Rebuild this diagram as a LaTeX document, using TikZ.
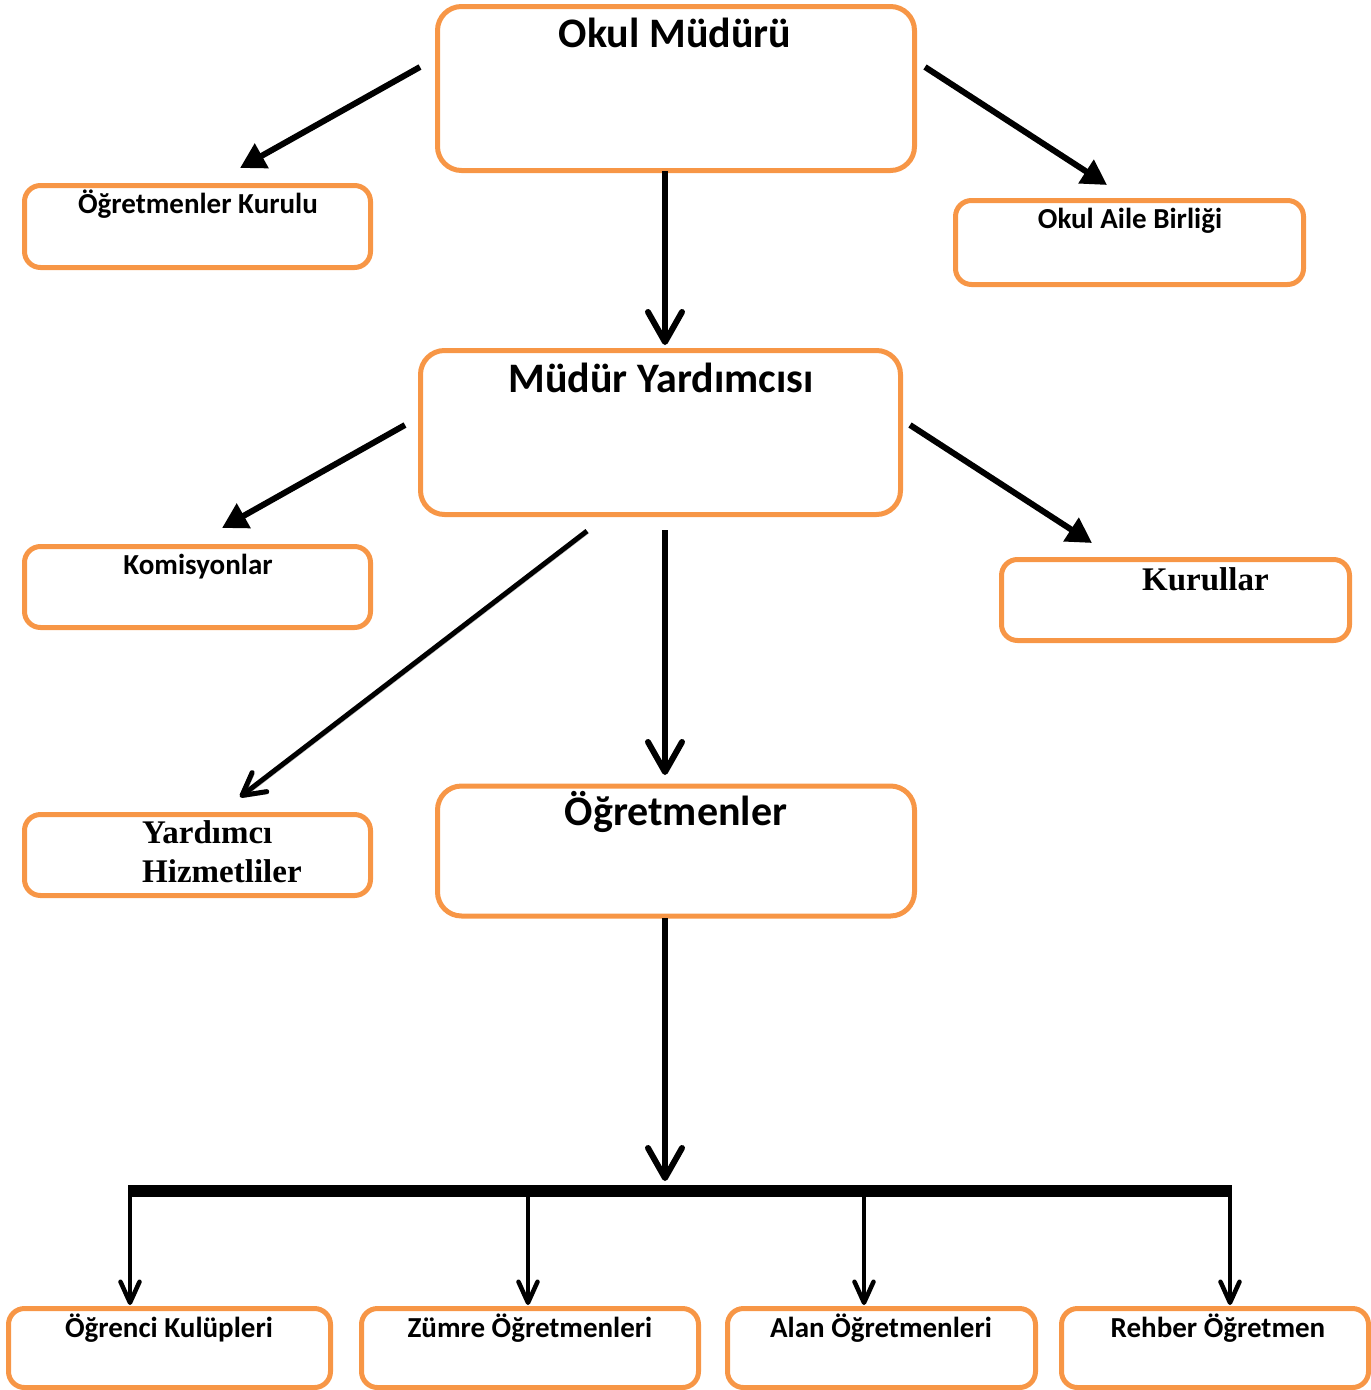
\documentclass[tikz,border=0pt]{standalone}
\usepackage{fontspec}
\setmainfont{Carlito}
\newfontfamily\cambriaish{Liberation Serif}
\usetikzlibrary{arrows.meta}
\definecolor{boxorange}{HTML}{F79646}
\tikzset{
  box/.style={draw=boxorange, line width=5pt, rounded corners=#1, inner sep=0pt, outer sep=0pt, anchor=north west},
  box/.default=16pt,
  bigtxt/.style={font=\fontsize{42}{50}\selectfont\bfseries, anchor=base, inner sep=0pt},
  smalltxt/.style={font=\fontsize{29}{35}\selectfont\bfseries, anchor=base, inner sep=0pt},
  seriftxt/.style={font=\cambriaish\fontsize{33}{40}\selectfont\bfseries, anchor=base west, inner sep=0pt, align=left},
  tri/.style={line width=6pt, -{Triangle[length=25pt,width=27pt]}},
  veebig/.style={line width=6pt, -{Straight Barb[length=30pt,width=34pt,round]},
    preaction={draw=gray!60, transform canvas={shift={(1.5pt,-1.5pt)}}}},
  veethin/.style={line width=5pt, -{Straight Barb[length=22pt,width=24pt,round]},
    preaction={draw=gray!60, transform canvas={shift={(2pt,-2pt)}}}},
  veesmall/.style={line width=4.5pt, -{Straight Barb[length=21pt,width=19pt,round]},
    preaction={draw=gray!60, transform canvas={shift={(1pt,-1pt)}}}},
}
\begin{document}
\begin{tikzpicture}[x=1pt,y=-1pt]
\useasboundingbox (0,0) rectangle (1371,1390);
% boxes
\node[box=24pt, minimum width=477pt, minimum height=164pt] (om) at (437.5,6.5) {};
\node[box, minimum width=346pt, minimum height=82pt] (okur) at (24.5,185.5) {};
\node[box, minimum width=348pt, minimum height=84pt] (oab) at (955.5,200.5) {};
\node[box=24pt, minimum width=480pt, minimum height=164pt] (my) at (420.5,350.5) {};
\node[box, minimum width=346pt, minimum height=81pt] (kom) at (24.5,546.5) {};
\node[box, minimum width=348pt, minimum height=81pt] (kur) at (1001.5,559.5) {};
\node[box, minimum width=346pt, minimum height=81pt] (yh) at (24.5,814.5) {};
\node[box=24pt, minimum width=477pt, minimum height=130pt] (ogr) at (437.5,786) {};
\node[box, minimum width=322pt, minimum height=79pt] (ok1) at (8.5,1308.5) {};
\node[box, minimum width=337pt, minimum height=79pt] (zum) at (361.5,1308.5) {};
\node[box, minimum width=308pt, minimum height=79pt] (alan) at (727.5,1308.5) {};
\node[box, minimum width=307pt, minimum height=79pt] (reh) at (1061.5,1308.5) {};
% texts
\node[bigtxt] (tom) at (675,47) {Okul Müdürü};
\node[smalltxt] (tokur) at (198,213) {Öğretmenler Kurulu};
\node[smalltxt] (toab) at (1130,228) {Okul Aile Birliği};
\node[bigtxt] (tmy) at (661,392) {Müdür Yardımcısı};
\node[smalltxt] (tkom) at (198,574) {Komisyonlar};
\node[seriftxt] (tkur) at (1142,590) {Kurullar};
\node[seriftxt] (tyh1) at (142,843) {Yardımcı};
\node[seriftxt] (tyh2) at (142,882) {Hizmetliler};
\node[bigtxt] (togr) at (676,825) {Öğretmenler};
\node[smalltxt] (tok1) at (169,1337) {Öğrenci Kulüpleri};
\node[smalltxt] (tzum) at (530,1337) {Zümre Öğretmenleri};
\node[smalltxt] (talan) at (881,1337) {Alan Öğretmenleri};
\node[smalltxt] (treh) at (1218,1337) {Rehber Öğretmen};
% connector end points
\coordinate (omL) at (420,67);   \coordinate (okurT) at (240,168);
\coordinate (omR) at (925,67);   \coordinate (oabT) at (1107,185);
\coordinate (omB) at (665,171);  \coordinate (myT) at (665,345);
\coordinate (myL) at (405,425);  \coordinate (komT) at (222,528);
\coordinate (myR) at (910,425);  \coordinate (kurT) at (1092,543);
\coordinate (myBL) at (587,531); \coordinate (yhT) at (240,797);
\coordinate (myB) at (665,530);  \coordinate (ogrT) at (665,775);
\coordinate (ogrB) at (665,918); \coordinate (barT) at (665,1181);
\coordinate (barL) at (130,1191); \coordinate (barR) at (1230,1191);
\coordinate (d1) at (130,1191); \coordinate (d2) at (528,1191);
\coordinate (d3) at (864,1191); \coordinate (d4) at (1230,1191);
\coordinate (e1) at (130,1305); \coordinate (e2) at (528,1305);
\coordinate (e3) at (864,1305); \coordinate (e4) at (1230,1305);
% connectors
\draw[tri] (omL) -- (okurT);
\draw[tri] (omR) -- (oabT);
\draw[veebig] (omB) -- (myT);
\draw[tri] (myL) -- (komT);
\draw[tri] (myR) -- (kurT);
\draw[veethin] (myBL) -- (yhT);
\draw[veebig] (myB) -- (ogrT);
\draw[veebig] (ogrB) -- (barT);
\draw[line width=12pt] ([xshift=-2pt]barL) -- ([xshift=2pt]barR);
\draw[veesmall] (d1) -- (e1);
\draw[veesmall] (d2) -- (e2);
\draw[veesmall] (d3) -- (e3);
\draw[veesmall] (d4) -- (e4);
\end{tikzpicture}
\end{document}
